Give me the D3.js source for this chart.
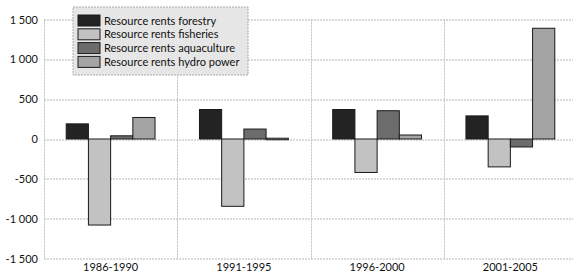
<!DOCTYPE html>
<html>
<head>
<meta charset="utf-8">
<script src="https://d3js.org/d3.v7.min.js"></script>
<style>
  body { margin: 0; background: #fff; }
  text { font-family: Lato, "Open Sans", sans-serif; fill: #111; }
</style>
</head>
<body>
<div id="chart"></div>
<script>
// periods and series
var periods = ["1986-1990", "1991-1995", "1996-2000", "2001-2005"];
var series = ["Resource rents forestry", "Resource rents fisheries", "Resource rents aquaculture", "Resource rents hydro power"];
var forestry = [190, 370, 370, 290];
var fisheries = [-1080, -845, -420, -350];
var aquaculture = [40, 125, 355, -100];
var hydro = [270, 10, 50, 1390];
var yTicks = [-1500, -1000, -500, 0, 500, 1000, 1500];
var colors = ["#232323", "#c2c2c2", "#6c6c6c", "#a4a4a4"];

var svgWidth = 573;
var svgHeight = 273;
var margin = { top: 19.5, right: -4, bottom: 14.5, left: 44 };
var width = svgWidth - margin.left - margin.right;
var height = svgHeight - margin.top - margin.bottom;

var svg = d3.select("#chart")
    .append("svg")
    .attr("width", svgWidth)
    .attr("height", svgHeight);

var chartGroup = svg.append("g")
    .attr("transform", `translate(${margin.left}, ${margin.top})`);

var rows = periods.map(function (p, i) {
    return { period: p, values: [forestry[i], fisheries[i], aquaculture[i], hydro[i]] };
});

// scales
var x0 = d3.scaleBand().domain(periods).range([0, width]);
var x1 = d3.scaleBand().domain(series).range([0, x0.bandwidth()]).paddingOuter(1);
var yScale = d3.scaleLinear().domain([-1500, 1500]).range([height, 0]);

var fmt = function (d) {
    var s = d3.format(",")(Math.abs(d)).replace(",", " ");
    return (d < 0 ? "-" : "") + s;
};

// grid
chartGroup.selectAll(".hgrid")
    .data(yTicks)
    .enter()
    .append("line")
    .attr("x1", 0)
    .attr("x2", width)
    .attr("y1", d => Math.round(yScale(d)) + 0.5)
    .attr("y2", d => Math.round(yScale(d)) + 0.5)
    .attr("stroke", "#b5b5b5")
    .attr("stroke-dasharray", "2,1");

chartGroup.selectAll(".vgrid")
    .data(periods)
    .enter()
    .append("line")
    .attr("x1", d => Math.round(x0(d)) + 0.5)
    .attr("x2", d => Math.round(x0(d)) + 0.5)
    .attr("y1", 0)
    .attr("y2", height)
    .attr("stroke", "#c0c0c0")
    .attr("stroke-dasharray", "2,1");

// y axis labels
var leftAxis = d3.axisLeft(yScale).tickValues(yTicks).tickFormat(fmt).tickSize(0).tickPadding(6);
chartGroup.append("g")
    .call(leftAxis)
    .call(g => g.select(".domain").remove())
    .selectAll("text")
    .style("font-family", "Lato, sans-serif")
    .style("font-size", "11px")
    .attr("fill", "#111");

// x axis labels
var bottomAxis = d3.axisBottom(x0).tickSize(0).tickPadding(5);
chartGroup.append("g")
    .attr("transform", `translate(0, ${height})`)
    .call(bottomAxis)
    .call(g => g.select(".domain").remove())
    .selectAll("text")
    .style("font-family", "Lato, sans-serif")
    .style("font-size", "11px")
    .attr("fill", "#111");

// bars
var groups = chartGroup.selectAll(".grp")
    .data(rows)
    .enter()
    .append("g")
    .attr("transform", d => `translate(${x0(d.period)}, 0)`);

groups.selectAll("rect")
    .data(d => d.values.map((v, j) => ({ key: series[j], value: v, idx: j })))
    .enter()
    .append("rect")
    .attr("x", d => x1(d.key))
    .attr("width", x1.bandwidth())
    .attr("y", d => yScale(Math.max(0, d.value)))
    .attr("height", d => Math.max(1.5, Math.abs(yScale(d.value) - yScale(0))))
    .attr("fill", d => colors[d.idx])
    .attr("stroke", "#1a1a1a")
    .attr("stroke-width", 1);

// legend
var legend = svg.append("g").attr("transform", "translate(73, 7)");
legend.append("rect")
    .attr("width", 175)
    .attr("height", 68)
    .attr("fill", "#e6e6e6")
    .attr("stroke", "#aaa")
    .attr("stroke-dasharray", "2,1");

var items = legend.selectAll(".item")
    .data(series)
    .enter()
    .append("g")
    .attr("transform", (d, i) => `translate(5, ${8 + i * 13.8})`);

items.append("rect")
    .attr("width", 22)
    .attr("height", 11)
    .attr("fill", (d, i) => colors[i])
    .attr("stroke", "#1a1a1a");

items.append("text")
    .attr("x", 26)
    .attr("y", 9.5)
    .style("font-size", "11px")
    .text(d => d);
</script>
</body>
</html>
